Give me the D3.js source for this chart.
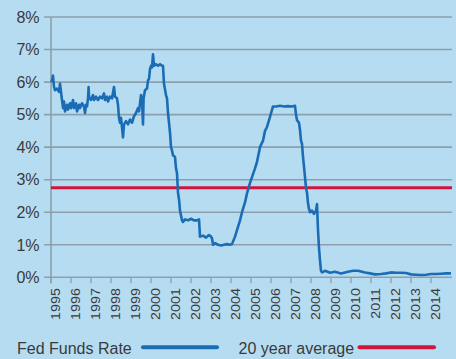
<!DOCTYPE html>
<html><head><meta charset="utf-8">
<script src="https://cdn.jsdelivr.net/npm/d3@7"></script>
<style>
html,body{margin:0;padding:0;background:#b6dcf2;}
svg{display:block;}
text{font-family:"Liberation Sans",Arial,Helvetica,sans-serif;fill:#3a3a3a;}
</style></head>
<body>
<svg id="c" width="456" height="359"></svg>
<script>
// Data (chart-axis years, rate in %)
const years = [1995.00,1995.05,1995.10,1995.15,1995.20,1995.30,1995.40,1995.45,1995.50,1995.55,1995.60,1995.65,1995.70,1995.80,1995.85,1995.95,
1996.00,1996.10,1996.15,1996.25,1996.30,1996.40,1996.45,1996.55,1996.65,1996.70,1996.75,1996.80,1996.85,1996.88,1996.90,
1997.00,1997.10,1997.15,1997.25,1997.35,1997.45,1997.55,1997.65,1997.70,1997.80,1997.85,1997.95,
1998.05,1998.15,1998.20,1998.30,1998.35,1998.40,1998.45,1998.50,1998.60,1998.65,1998.75,1998.85,1998.95,
1999.05,1999.15,1999.25,1999.35,1999.40,1999.50,1999.55,1999.60,1999.63,1999.70,1999.80,1999.85,1999.90,1999.95,
2000.00,2000.05,2000.10,2000.15,2000.25,2000.35,2000.45,2000.55,2000.60,2000.65,2000.75,2000.80,2000.85,2000.95,
2001.00,2001.05,2001.10,2001.20,2001.25,2001.30,2001.35,2001.40,2001.45,2001.50,2001.55,2001.60,2001.70,2001.85,
2002.00,2002.15,2002.30,2002.40,2002.45,2002.60,2002.75,2002.90,
2003.00,2003.05,2003.10,2003.20,2003.35,2003.50,2003.65,2003.80,2003.95,
2004.05,2004.20,2004.30,2004.45,2004.55,2004.70,2004.80,2004.95,
2005.05,2005.20,2005.30,2005.45,2005.60,2005.70,2005.80,2005.95,
2006.10,2006.25,2006.45,2006.65,2006.85,
2007.05,2007.20,2007.25,2007.30,2007.40,2007.45,2007.50,2007.55,2007.60,2007.65,2007.70,2007.75,2007.80,2007.85,2007.90,2007.95,
2008.05,2008.15,2008.25,2008.30,2008.35,2008.40,2008.45,2008.50,2008.55,2008.70,2008.95,
2009.20,2009.50,2009.85,2010.10,2010.35,2010.70,2010.95,2011.20,2011.50,2011.75,
2012.00,2012.25,2012.50,2012.75,2013.00,2013.25,2013.50,2013.75,2014.00,2014.25,2014.50,2014.75,2015.00];
const fedFunds = [6.0,6.05,6.2,5.85,5.75,5.8,5.7,5.95,5.7,5.45,5.2,5.4,5.1,5.3,5.15,5.35,
5.2,5.45,5.2,5.35,5.1,5.3,5.2,5.35,5.25,5.05,5.3,5.25,5.5,5.85,5.55,
5.45,5.6,5.45,5.55,5.45,5.55,5.5,5.65,5.45,5.55,5.4,5.55,
5.5,5.85,5.55,5.5,5.3,4.9,4.75,4.9,4.3,4.7,4.8,4.7,4.85,
4.75,4.95,5.05,5.2,5.1,5.6,5.45,4.7,5.5,5.75,5.8,6.05,6.1,6.4,
6.5,6.45,6.85,6.5,6.55,6.5,6.55,6.5,6.5,5.95,5.6,5.5,5.05,4.45,
4.0,3.9,3.75,3.7,3.35,3.2,2.6,2.4,2.05,1.9,1.75,1.7,1.78,1.75,
1.8,1.75,1.75,1.78,1.25,1.28,1.22,1.3,
1.25,1.2,1.0,1.05,1.0,0.98,1.0,1.02,1.0,
1.02,1.25,1.45,1.75,2.0,2.3,2.58,2.9,
3.08,3.35,3.55,4.0,4.2,4.5,4.62,4.93,
5.25,5.25,5.27,5.25,5.26,
5.25,5.27,5.0,4.83,4.75,4.52,4.2,4.1,3.7,3.4,3.08,2.75,2.6,2.28,2.1,2.0,
2.05,1.95,2.05,2.25,1.45,0.9,0.52,0.2,0.15,0.2,0.14,
0.17,0.12,0.17,0.2,0.2,0.15,0.12,0.09,0.1,0.12,
0.15,0.14,0.14,0.13,0.09,0.08,0.07,0.08,0.1,0.1,0.11,0.12,0.12];
const average = 2.75;
const yTicks = [0,1,2,3,4,5,6,7,8];
const xTicks = d3.range(1995, 2015);
const legendLabels = ["Fed Funds Rate", "20 year average"];

const svg = d3.select("#c");
const x = d3.scaleLinear().domain([1995, 2015]).range([51, 451]);
const y = d3.scaleLinear().domain([0, 8]).range([277.3, 17]);
const grid = "#8d9fad";

// gridlines
svg.append("g").selectAll("line").data(yTicks).join("line")
  .attr("x1", 44).attr("x2", 452)
  .attr("y1", d => y(d)).attr("y2", d => y(d))
  .attr("stroke", grid).attr("stroke-width", 1.6);

// y labels
svg.append("g").selectAll("text").data(yTicks).join("text")
  .attr("x", 39.5).attr("y", d => y(d)).attr("dy", "0.36em")
  .attr("text-anchor", "end").attr("font-size", 16)
  .text(d => d + "%");

// left axis line
svg.append("line").attr("x1", x(1995)).attr("x2", x(1995))
  .attr("y1", y(8)).attr("y2", y(0) + 6).attr("stroke", grid).attr("stroke-width", 1.6);

// x ticks
svg.append("g").selectAll("line").data(xTicks).join("line")
  .attr("x1", d => x(d)).attr("x2", d => x(d))
  .attr("y1", y(0)).attr("y2", y(0) + 6)
  .attr("stroke", grid).attr("stroke-width", 1.3);

// x labels (rotated)
svg.append("g").selectAll("text").data(xTicks).join("text")
  .attr("transform", d => `translate(${x(d) + 9.2},288) rotate(-90) scale(1.12,1)`)
  .attr("text-anchor", "end").attr("font-size", 12.8)
  .text(d => d);

// average line
svg.append("line").attr("x1", x(1995)).attr("x2", 452)
  .attr("y1", y(average)).attr("y2", y(average))
  .attr("stroke", "#d0153d").attr("stroke-width", 3);

// fed funds line
const pts = years.map((d, i) => [d, fedFunds[i]]);
svg.append("path").datum(pts)
  .attr("d", d3.line().x(d => x(d[0])).y(d => y(d[1])))
  .attr("fill", "none").attr("stroke", "#1a6db5").attr("stroke-width", 2.6)
  .attr("stroke-linejoin", "round");

// legend
const lg = svg.append("g");
lg.append("text").attr("x", 17).attr("y", 354).attr("font-size", 16).text(legendLabels[0]);
lg.append("line").attr("x1", 143).attr("x2", 217).attr("y1", 347.3).attr("y2", 347.3)
  .attr("stroke", "#1a6db5").attr("stroke-width", 4).attr("stroke-linecap", "round");
lg.append("text").attr("x", 238.5).attr("y", 354).attr("font-size", 16).text(legendLabels[1]);
lg.append("line").attr("x1", 359.5).attr("x2", 434).attr("y1", 347.3).attr("y2", 347.3)
  .attr("stroke", "#d0153d").attr("stroke-width", 4).attr("stroke-linecap", "round");
</script>
</body></html>
